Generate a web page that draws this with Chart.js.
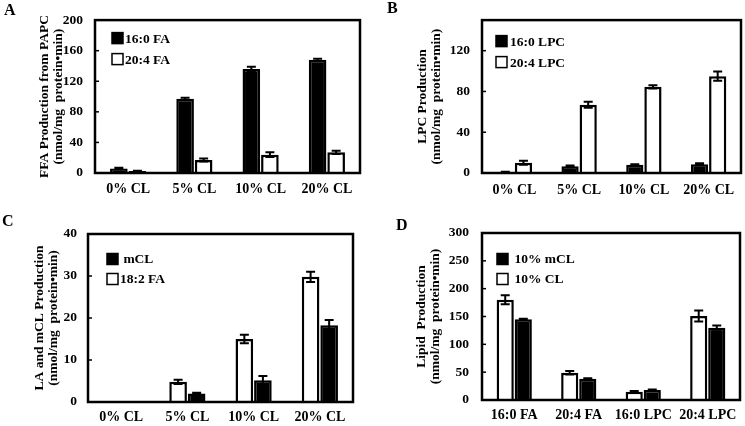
<!DOCTYPE html>
<html>
<head>
<meta charset="utf-8">
<script src="https://cdn.jsdelivr.net/npm/chart.js@4.4.1/dist/chart.umd.min.js"></script>
<style>
  body { margin: 0; background: #fff; }
  #wrap { position: relative; width: 745px; height: 426px; overflow: hidden; }
  #wrap canvas { position: absolute; left: 0; top: 0; }
  .tag { position: absolute; font: bold 16px "Liberation Serif", "Times New Roman", serif; line-height: 16px; color: #000; }
</style>
</head>
<body>
<div id="wrap">
  <canvas id="chartA" width="745" height="426"></canvas>
  <canvas id="chartB" width="745" height="426"></canvas>
  <canvas id="chartC" width="745" height="426"></canvas>
  <canvas id="chartD" width="745" height="426"></canvas>
  <div class="tag" style="left:4px;top:2px">A</div>
  <div class="tag" style="left:387px;top:0px">B</div>
  <div class="tag" style="left:2px;top:213px">C</div>
  <div class="tag" style="left:396px;top:217px">D</div>
</div>
<script>
// te dhenat e grafikeve
const clLabels = ["0% CL", "5% CL", "10% CL", "20% CL"];
const lipidLabels = ["16:0 FA", "20:4 FA", "16:0 LPC", "20:4 LPC"];

// A - FFA nga PAPC
const fa160 = [6, 97, 136, 148];
const fa160Err = [1, 1.5, 3, 1.5];
const fa204 = [2.5, 17, 24, 27];
const fa204Err = [0.5, 2, 3, 2];
const ticksA = [0, 40, 80, 120, 160, 200];

// B - LPC
const lpc160 = [1, 6.5, 8, 8.5];
const lpc160Err = [0.3, 0.8, 0.5, 1];
const lpc204 = [10, 67, 84.5, 95];
const lpc204Err = [2, 3, 1.5, 4.5];
const ticksB = [0, 40, 80, 120];

// C - LA dhe mCL
const fa182 = [0, 4.8, 15, 29.8];
const fa182Err = [0, 0.5, 1, 1.2];
const mcl = [0, 2, 5.2, 18.3];
const mclErr = [0, 0.2, 1, 1.2];
const ticksC = [0, 10, 20, 30, 40];

// D - lipidet
const cl10 = [180, 49, 15, 151];
const cl10Err = [8, 3, 1, 10];
const mcl10 = [145, 38, 18, 130];
const mcl10Err = [1, 1, 1, 4];
const ticksD = [0, 50, 100, 150, 200, 250, 300];

const FONT = "'Liberation Serif', 'Times New Roman', serif";
Chart.defaults.color = "#000";
Chart.defaults.font.family = FONT;
Chart.defaults.font.weight = "bold";
Chart.defaults.font.size = 13.5;

// kutia, vijat e gabimit dhe legjenda brenda grafikut
const panelPlugin = {
    id: "panel",
    afterDatasetsDraw(chart) {
        const ctx = chart.ctx;
        const y = chart.scales.y;
        ctx.save();
        ctx.strokeStyle = "#000";
        ctx.lineWidth = 2;
        chart.data.datasets.forEach((ds, i) => {
            const meta = chart.getDatasetMeta(i);
            meta.data.forEach((bar, j) => {
                const e = ds.errors[j];
                if (!e) return;
                const top = y.getPixelForValue(ds.data[j] + e);
                const bot = y.getPixelForValue(ds.data[j] - e);
                ctx.beginPath();
                ctx.moveTo(bar.x, top);
                ctx.lineTo(bar.x, bot);
                ctx.moveTo(bar.x - 4.5, top);
                ctx.lineTo(bar.x + 4.5, top);
                ctx.moveTo(bar.x - 4.5, bot);
                ctx.lineTo(bar.x + 4.5, bot);
                ctx.stroke();
            });
        });
        ctx.restore();
    },
    afterDraw(chart, args, opts) {
        const ctx = chart.ctx;
        const a = chart.chartArea;
        ctx.save();
        ctx.strokeStyle = "#000";
        ctx.lineWidth = 2.5;
        ctx.strokeRect(a.left, a.top, a.right - a.left, a.bottom - a.top);

        // vijat e vogla te akseve nga brenda
        ctx.lineWidth = 1.5;
        chart.scales.y.ticks.forEach(t => {
            const py = chart.scales.y.getPixelForValue(t.value);
            if (py <= a.top + 2 || py >= a.bottom - 2) return;
            ctx.beginPath();
            ctx.moveTo(a.left, py);
            ctx.lineTo(a.left + 4, py);
            ctx.stroke();
        });

        // legjenda
        ctx.font = "bold 13.5px " + FONT;
        ctx.textBaseline = "middle";
        ctx.textAlign = "left";
        opts.order.forEach((di, k) => {
            const ds = chart.data.datasets[di];
            const sx = a.left + opts.x;
            const sy = a.top + opts.y + k * opts.gap;
            ctx.fillStyle = ds.backgroundColor;
            ctx.fillRect(sx, sy - 5.5, 11, 11);
            ctx.lineWidth = 1.5;
            ctx.strokeRect(sx, sy - 5.5, 11, 11);
            ctx.fillStyle = "#000";
            ctx.fillText(ds.label, sx + 11 + opts.textGap, sy + 1);
        });
        ctx.restore();
    }
};

function makePanel(id, cfg) {
    const datasets = cfg.series.map(s => ({
        label: s.label,
        data: s.data,
        errors: s.errors,
        backgroundColor: s.fill,
        borderColor: "#000",
        borderWidth: 2.5,
        categoryPercentage: 0.56,
        barPercentage: 0.95
    }));
    return new Chart(document.getElementById(id).getContext("2d"), {
        type: "bar",
        data: { labels: cfg.labels, datasets: datasets },
        options: {
            responsive: false,
            animation: false,
            events: [],
            layout: { padding: cfg.padding },
            plugins: {
                legend: { display: false },
                tooltip: { enabled: false },
                panel: cfg.legend
            },
            scales: {
                x: {
                    grid: { display: false, drawTicks: false },
                    border: { display: false },
                    ticks: { padding: cfg.xPad, maxRotation: 0, autoSkip: false, font: { size: 14 } },
                    afterFit: scale => { scale.height = cfg.xHeight; }
                },
                y: {
                    min: cfg.ticks[0],
                    max: cfg.yMax,
                    grid: { display: false, drawTicks: false },
                    border: { display: false },
                    ticks: { padding: cfg.yPad },
                    afterBuildTicks: scale => { scale.ticks = cfg.ticks.map(v => ({ value: v })); },
                    afterFit: scale => { scale.width = cfg.yWidth; },
                    title: {
                        display: true,
                        text: cfg.title,
                        padding: 0,
                        font: { size: 13.5, weight: "bold", lineHeight: 1.05 }
                    }
                }
            }
        },
        plugins: [panelPlugin]
    });
}

makePanel("chartA", {
    labels: clLabels,
    series: [
        { label: "16:0 FA", data: fa160, errors: fa160Err, fill: "#000" },
        { label: "20:4 FA", data: fa204, errors: fa204Err, fill: "#fff" }
    ],
    ticks: ticksA, yMax: 200,
    title: ["FFA Production from PAPC", "(nmol/mg  protein\u2022min)"],
    padding: { left: 37, top: 13, right: 385, bottom: 213 },
    yWidth: 58, yPad: 12, xHeight: 40, xPad: 8,
    legend: { x: 17, y: 18, gap: 21, textGap: 2, order: [0, 1] }
});

makePanel("chartB", {
    labels: clLabels,
    series: [
        { label: "16:0 LPC", data: lpc160, errors: lpc160Err, fill: "#000" },
        { label: "20:4 LPC", data: lpc204, errors: lpc204Err, fill: "#fff" }
    ],
    ticks: ticksB, yMax: 150,
    title: ["LPC Production", "(nmol/mg  protein\u2022min)"],
    padding: { left: 415, top: 13, right: 4, bottom: 213 },
    yWidth: 67, yPad: 12, xHeight: 40, xPad: 9,
    legend: { x: 14, y: 21, gap: 21, textGap: 3, order: [0, 1] }
});

makePanel("chartC", {
    labels: clLabels,
    series: [
        { label: "18:2 FA", data: fa182, errors: fa182Err, fill: "#fff" },
        { label: " mCL", data: mcl, errors: mclErr, fill: "#000" }
    ],
    ticks: ticksC, yMax: 40,
    title: ["LA and mCL Production", "(nmol/mg  protein\u2022min)"],
    padding: { left: 32, top: 234, right: 392, bottom: 0 },
    yWidth: 56, yPad: 11, xHeight: 24, xPad: 7,
    legend: { x: 19, y: 25, gap: 20, textGap: 2, order: [1, 0] }
});

makePanel("chartD", {
    labels: lipidLabels,
    series: [
        { label: " 10% CL", data: cl10, errors: cl10Err, fill: "#fff" },
        { label: " 10% mCL", data: mcl10, errors: mcl10Err, fill: "#000" }
    ],
    ticks: ticksD, yMax: 300,
    title: ["Lipid  Production", "(nmol/mg  protein\u2022min)"],
    padding: { left: 414, top: 233, right: 5, bottom: 2 },
    yWidth: 68, yPad: 13, xHeight: 24, xPad: 7,
    legend: { x: 15, y: 26, gap: 20, textGap: 3, order: [1, 0] }
});
</script>
</body>
</html>
